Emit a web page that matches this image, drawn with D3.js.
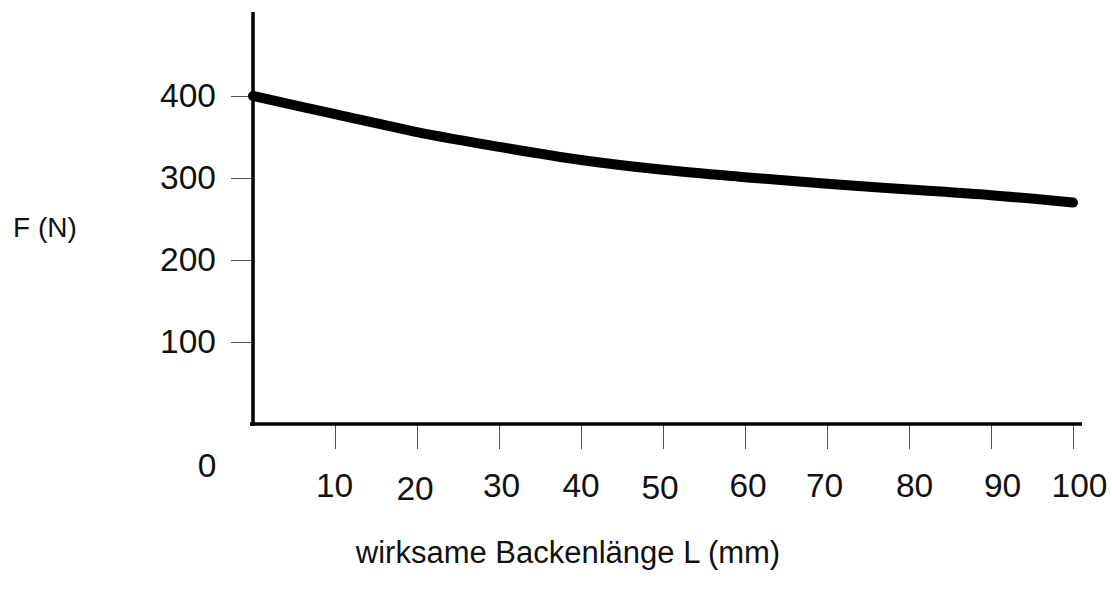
<!DOCTYPE html>
<html>
<head>
<meta charset="utf-8">
<script src="https://cdn.jsdelivr.net/npm/d3@7"></script>
<style>
	body { margin: 0; background: #fff; }
	text { font-family: "Liberation Sans", Arial, Helvetica, sans-serif; fill: #111; }
</style>
</head>
<body>
<svg id="chart" width="1112" height="590"></svg>
<script>
//Backenlänge L in mm
var lengths = [0, 10, 20, 30, 40, 50, 60, 70, 80, 90, 100];
//Kraft F in N
var forces = [400, 378, 356, 338, 322, 310, 301, 293, 286, 279, 270];

var xTicks = [10, 20, 30, 40, 50, 60, 70, 80, 90, 100];
var yTicks = [100, 200, 300, 400];

//hand placed labels in the original are a bit off their ticks
var xLabelNudge = [
	[-1, 0], [-2.5, 3], [2, 0], [-0.5, 0], [-3.5, 2],
	[2.5, 0], [-3, 0], [5, 0], [11, 0], [6, 0]
];

var svg = d3.select("#chart");

var x = d3.scaleLinear()
.domain([0, 100])
.range([253, 1073]);

var y = d3.scaleLinear()
.domain([0, 400])
.range([424, 96]);

//y axis ticks and labels, the domain line is drawn below
var yAxis = d3.axisLeft(y)
.tickValues(yTicks)
.tickSize(22)
.tickPadding(15);

var yG = svg.append("g")
.attr("transform", "translate(" + x(0) + ",0)")
.call(yAxis);

yG.select(".domain").remove();
yG.selectAll(".tick line").attr("stroke", "#555").attr("stroke-width", 1);
yG.selectAll(".tick text")
.style("font-size", "33.5px")
.attr("fill", "#111");

//x axis
var xAxis = d3.axisBottom(x)
.tickValues(xTicks)
.tickSize(25);

var xG = svg.append("g")
.attr("transform", "translate(0," + y(0) + ")")
.call(xAxis);

xG.select(".domain").remove();
xG.selectAll(".tick line").attr("stroke", "#555").attr("stroke-width", 1);
xG.selectAll(".tick text")
.style("font-size", "33.5px")
.attr("fill", "#111")
.attr("y", 73)
.attr("dy", 0)
.attr("x", function(d, i){ return xLabelNudge[i][0]; })
.attr("transform", function(d, i){ return "translate(0," + xLabelNudge[i][1] + ")"; });

//origin label
svg.append("text")
.attr("x", x(0) - 46)
.attr("y", y(0) + 53)
.attr("text-anchor", "middle")
.style("font-size", "33.5px")
.text("0");

//thick axis lines
svg.append("line")
.attr("x1", x(0))
.attr("x2", x(0))
.attr("y1", 12)
.attr("y2", y(0) + 2)
.attr("stroke", "#000")
.attr("stroke-width", 3.5);

svg.append("line")
.attr("x1", x(0) - 3)
.attr("x2", 1082)
.attr("y1", y(0))
.attr("y2", y(0))
.attr("stroke", "#000")
.attr("stroke-width", 3.5);

//curve
var line = d3.line()
.x(function(d, i){ return x(lengths[i]); })
.y(function(d){ return y(d); })
.curve(d3.curveMonotoneX);

svg.append("path")
.datum(forces)
.attr("d", line)
.attr("fill", "none")
.attr("stroke", "#000")
.attr("stroke-width", 10)
.attr("stroke-linecap", "round")
.attr("stroke-linejoin", "round");

//axis titles
svg.append("text")
.attr("x", 13)
.attr("y", 237)
.style("font-size", "28px")
.attr("fill", "#222")
.text("F (N)");

svg.append("text")
.attr("x", 568)
.attr("y", 563)
.attr("text-anchor", "middle")
.style("font-size", "31px")
.attr("fill", "#222")
.text("wirksame Backenlänge L (mm)");
</script>
</body>
</html>
